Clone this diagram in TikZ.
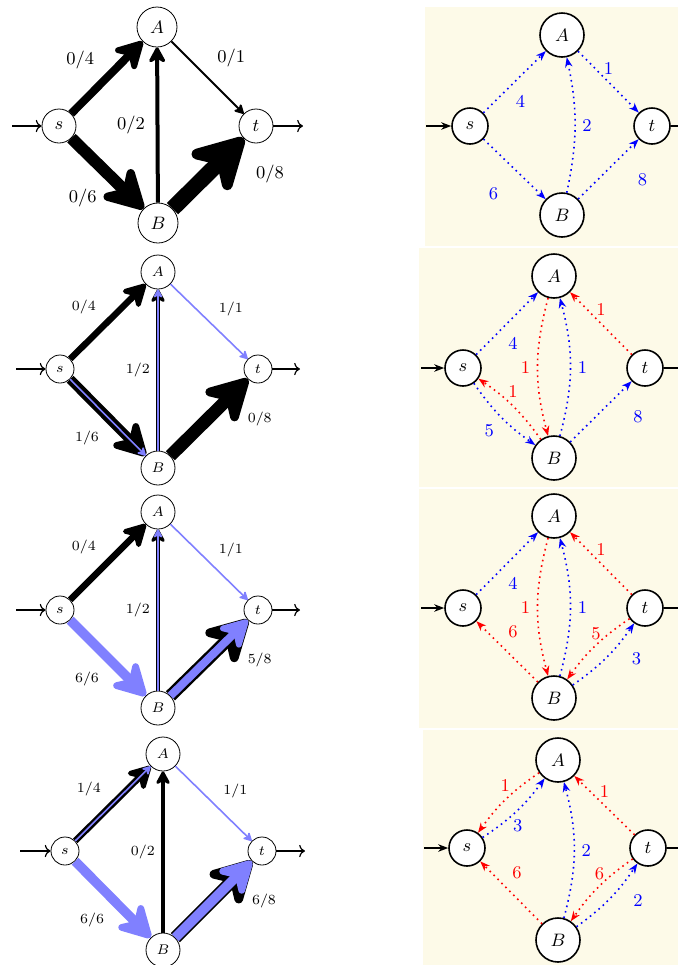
\documentclass[tikz,border=0pt]{standalone}
\usepackage{tikz}
\usetikzlibrary{arrows.meta}
\definecolor{flowc}{HTML}{8080FF}
\definecolor{resbg}{HTML}{FDFAE8}

\begin{document}
\begin{tikzpicture}[
  x=0.5pt, y=-0.5pt,
  vtx/.style={circle, draw, fill=white, inner sep=0pt, minimum size=#1},
  rvtx/.style={vtx=#1, thick},
  net/.style={-{Stealth[round, length=2pt 3.8, width=2pt 4.2, inset=0.5pt 1.3]}, line width=#1},
  fl/.style={net=#1, draw=flowc},
  io/.style={->, semithick},
  res/.style={-{Stealth[length=5pt]}, thick, dotted},
  fwd/.style={res, blue},
  bwd/.style={res, red},
  rio/.style={-{Stealth[length=5pt]}, thick},
]
  \useasboundingbox (0,0) rectangle (678,965);
  \clip (0,0) rectangle (678,965);

  % flow network, step 0
  \begin{scope}[font=\small]
    \node[vtx=20pt] (a1) at (157,27) {$A$};
    \node[vtx=17pt] (s1) at (59,126) {$s$};
    \node[vtx=17pt] (t1) at (256,126) {$t$};
    \node[vtx=20pt] (b1) at (158,223) {$B$};
    \coordinate (in1) at (12,126);
    \coordinate (out1) at (303,126);
    \draw[io] (in1) -- (s1);
    \draw[io] (t1) -- (out1);
    \draw[net=4pt] (s1) -- node[pos=.47, above left] {0/4} (a1);
    \draw[net=1pt] (a1) -- node[pos=.53, above right, yshift=2.5pt] {0/1} (t1);
    \draw[net=2pt] (b1) -- node[left=2pt] {0/2} (a1);
    \draw[net=6pt] (s1) -- node[pos=.47, below left, xshift=2pt, yshift=-2.5pt] {0/6} (b1);
    \draw[net=8pt] (b1) -- node[pos=.83, below right, xshift=5pt] {0/8} (t1);
  \end{scope}

  % residual network, step 0
  \begin{scope}[font=\small]
    \clip (425,7) rectangle (700,246);
    \fill[resbg] (425,7) rectangle (700,246);
    \node[rvtx=22pt] (ra1) at (562,35) {$A$};
    \node[rvtx=18pt] (rs1) at (470,126) {$s$};
    \node[rvtx=18pt] (rt1) at (652,126) {$t$};
    \node[rvtx=22pt] (rb1) at (562,215) {$B$};
    \coordinate (rin1) at (426,126);
    \coordinate (rout1) at (700,126);
    \draw[rio] (rin1) -- (rs1);
    \draw[rio] (rt1) -- (rout1);
    \draw[fwd] (rs1) -- node[pos=.4, below right] {4} (ra1);
    \draw[fwd] (ra1) -- node[pos=.5, above] {1} (rt1);
    \draw[fwd] (rb1) to[bend right=12] node[right] {2} (ra1);
    \draw[fwd] (rs1) -- node[pos=.5, below left, xshift=-4.5pt, yshift=-5.5pt] {6} (rb1);
    \draw[fwd] (rb1) -- node[pos=.65, below right, xshift=6.5pt, yshift=-3pt] {8} (rt1);
  \end{scope}

  % flow network, step 1
  \begin{scope}[font=\scriptsize]
    \node[vtx=17pt] (a2) at (158,272) {$A$};
    \node[vtx=14pt] (s2) at (60,369) {$s$};
    \node[vtx=14pt] (t2) at (258,369) {$t$};
    \node[vtx=17pt] (b2) at (158,468) {$B$};
    \coordinate (in2) at (16,369);
    \coordinate (out2) at (300,369);
    \draw[io] (in2) -- (s2);
    \draw[io] (t2) -- (out2);
    \draw[net=3.2pt] (s2) -- node[pos=.47, above left] {0/4} (a2);
    \draw[fl=0.8pt] (a2) -- node[pos=.53, above right] {1/1} (t2);
    \draw[net=1.6pt] (b2) -- node[left] {1/2} (a2);
    \draw[fl=0.8pt] (b2) -- (a2);
    \draw[net=4.8pt] (s2) -- node[pos=.48, below left, xshift=2pt, yshift=-2pt] {1/6} (b2);
    \draw[fl=0.8pt] (s2) -- (b2);
    \draw[net=6.4pt] (b2) -- node[pos=.78, below right, xshift=2pt, yshift=-1.5pt] {0/8} (t2);
  \end{scope}

  % residual network, step 1
  \begin{scope}[font=\small]
    \clip (419,248) rectangle (700,487);
    \fill[resbg] (419,248) rectangle (700,487);
    \node[rvtx=22pt] (ra2) at (554,276) {$A$};
    \node[rvtx=18pt] (rs2) at (463,368) {$s$};
    \node[rvtx=18pt] (rt2) at (645,368) {$t$};
    \node[rvtx=22pt] (rb2) at (554,458) {$B$};
    \coordinate (rin2) at (421,368);
    \coordinate (rout2) at (700,368);
    \draw[rio] (rin2) -- (rs2);
    \draw[rio] (rt2) -- (rout2);
    \draw[fwd] (rs2) -- node[pos=.4, below right] {4} (ra2);
    \draw[bwd] (rt2) -- node[pos=.5, above] {1} (ra2);
    \draw[bwd] (ra2) to[bend right=15] node[left] {1} (rb2);
    \draw[fwd] (rb2) to[bend right=15] node[right] {1} (ra2);
    \draw[bwd] (rb2) to[bend right=10] node[pos=.6, above right, xshift=-3pt, yshift=-2.5pt] {1} (rs2);
    \draw[fwd] (rs2) to[bend right=10] node[below left] {5} (rb2);
    \draw[fwd] (rb2) -- node[pos=.68, below right, xshift=7pt, yshift=-1pt] {8} (rt2);
  \end{scope}

  % flow network, step 2
  \begin{scope}[font=\scriptsize]
    \node[vtx=17pt] (a3) at (158,512) {$A$};
    \node[vtx=14pt] (s3) at (60,610) {$s$};
    \node[vtx=14pt] (t3) at (258,610) {$t$};
    \node[vtx=17pt] (b3) at (158,708) {$B$};
    \coordinate (in3) at (16,610);
    \coordinate (out3) at (300,610);
    \draw[io] (in3) -- (s3);
    \draw[io] (t3) -- (out3);
    \draw[net=3.2pt] (s3) -- node[pos=.47, above left] {0/4} (a3);
    \draw[fl=0.8pt] (a3) -- node[pos=.53, above right] {1/1} (t3);
    \draw[net=1.6pt] (b3) -- node[left] {1/2} (a3);
    \draw[fl=0.8pt] (b3) -- (a3);
    \draw[fl=4.8pt] (s3) -- node[pos=.48, below left, xshift=2pt, yshift=-2pt] {6/6} (b3);
    \draw[net=6.4pt] (b3) -- node[pos=.78, below right, xshift=2pt, yshift=-1.5pt] {5/8} (t3);
    \draw[fl=4pt] (b3) -- (t3);
  \end{scope}

  % residual network, step 2
  \begin{scope}[font=\small]
    \clip (419,489) rectangle (700,728);
    \fill[resbg] (419,489) rectangle (700,728);
    \node[rvtx=22pt] (ra3) at (554,516) {$A$};
    \node[rvtx=18pt] (rs3) at (463,608) {$s$};
    \node[rvtx=18pt] (rt3) at (645,608) {$t$};
    \node[rvtx=22pt] (rb3) at (554,698) {$B$};
    \coordinate (rin3) at (421,608);
    \coordinate (rout3) at (700,608);
    \draw[rio] (rin3) -- (rs3);
    \draw[rio] (rt3) -- (rout3);
    \draw[fwd] (rs3) -- node[pos=.4, below right] {4} (ra3);
    \draw[bwd] (rt3) -- node[pos=.5, above] {1} (ra3);
    \draw[bwd] (ra3) to[bend right=15] node[left] {1} (rb3);
    \draw[fwd] (rb3) to[bend right=15] node[right] {1} (ra3);
    \draw[bwd] (rb3) -- node[pos=.6, above right] {6} (rs3);
    \draw[bwd] (rt3) to[bend right=10] node[pos=.4, above left, xshift=3.5pt, yshift=-3.5pt] {5} (rb3);
    \draw[fwd] (rb3) to[bend right=10] node[pos=.68, below right, xshift=4pt, yshift=1pt] {3} (rt3);
  \end{scope}

  % flow network, step 3
  \begin{scope}[font=\scriptsize]
    \node[vtx=17pt] (a4) at (163,754) {$A$};
    \node[vtx=14pt] (s4) at (65,851) {$s$};
    \node[vtx=14pt] (t4) at (262,851) {$t$};
    \node[vtx=17pt] (b4) at (163,950) {$B$};
    \coordinate (in4) at (20,851);
    \coordinate (out4) at (305,851);
    \draw[io] (in4) -- (s4);
    \draw[io] (t4) -- (out4);
    \draw[net=3.2pt] (s4) -- node[pos=.47, above left] {1/4} (a4);
    \draw[fl=0.8pt] (s4) -- (a4);
    \draw[fl=0.8pt] (a4) -- node[pos=.53, above right] {1/1} (t4);
    \draw[net=1.6pt] (b4) -- node[left] {0/2} (a4);
    \draw[fl=4.8pt] (s4) -- node[pos=.48, below left, xshift=2pt, yshift=-2pt] {6/6} (b4);
    \draw[net=6.4pt] (b4) -- node[pos=.78, below right, xshift=2pt, yshift=-1.5pt] {6/8} (t4);
    \draw[fl=4.8pt] (b4) -- (t4);
  \end{scope}

  % residual network, step 3
  \begin{scope}[font=\small]
    \clip (423,730) rectangle (700,970);
    \fill[resbg] (423,730) rectangle (700,970);
    \node[rvtx=22pt] (ra4) at (558,760) {$A$};
    \node[rvtx=18pt] (rs4) at (467,848) {$s$};
    \node[rvtx=18pt] (rt4) at (648,848) {$t$};
    \node[rvtx=22pt] (rb4) at (558,940) {$B$};
    \coordinate (rin4) at (424,848);
    \coordinate (rout4) at (700,848);
    \draw[rio] (rin4) -- (rs4);
    \draw[rio] (rt4) -- (rout4);
    \draw[bwd] (ra4) to[bend right=10] node[pos=.45, above left, xshift=4.5pt, yshift=-1pt] {1} (rs4);
    \draw[fwd] (rs4) to[bend right=10] node[pos=.4, below right, xshift=-2.5pt, yshift=2pt] {3} (ra4);
    \draw[bwd] (rt4) -- node[pos=.5, above] {1} (ra4);
    \draw[fwd] (rb4) to[bend right=15] node[right] {2} (ra4);
    \draw[bwd] (rb4) -- node[pos=.6, above right] {6} (rs4);
    \draw[bwd] (rt4) to[bend right=10] node[pos=.4, above left, xshift=3.5pt, yshift=-3pt] {6} (rb4);
    \draw[fwd] (rb4) to[bend right=10] node[pos=.68, below right, xshift=3pt] {2} (rt4);
  \end{scope}
\end{tikzpicture}
\end{document}
